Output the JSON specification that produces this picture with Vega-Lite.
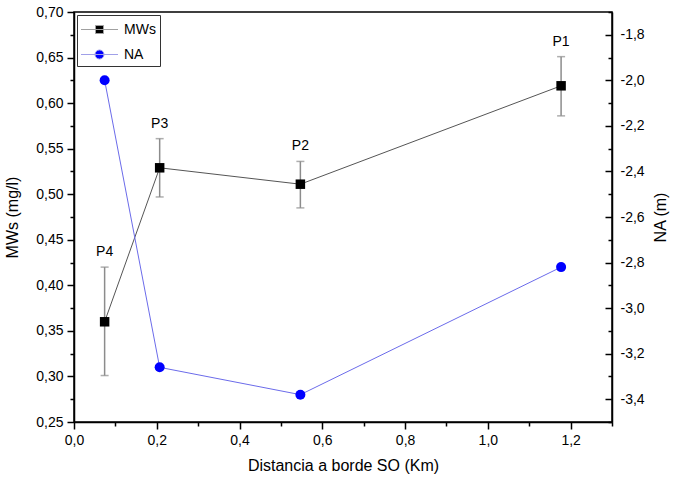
{
  "$schema": "https://vega.github.io/schema/vega-lite/v6.json",
  "width": 538,
  "height": 410,
  "autosize": {"type": "none"},
  "padding": {"left": 74, "top": 12, "right": 62, "bottom": 58},
  "background": "white",
  "config": {
    "font": "Liberation Sans",
    "view": {"stroke": "black", "strokeWidth": 1.5},
    "axis": {
      "domainColor": "black", "domainWidth": 1.5, "tickColor": "black", "tickWidth": 1.5,
      "labelColor": "black", "titleColor": "black", "labelFontSize": 14, "titleFontSize": 16,
      "titleFontWeight": "normal", "grid": false, "labelFont": "Liberation Sans", "titleFont": "Liberation Sans",
      "labelFlush": false, "labelOverlap": false
    }
  },
  "data": {
    "values": [
      {"site": "P4", "x": 0.074, "mws": 0.360, "lo": 0.301, "hi": 0.420, "na": -2.00},
      {"site": "P3", "x": 0.207, "mws": 0.529, "lo": 0.497, "hi": 0.561, "na": -3.26},
      {"site": "P2", "x": 0.547, "mws": 0.511, "lo": 0.485, "hi": 0.536, "na": -3.38},
      {"site": "P1", "x": 1.177, "mws": 0.619, "lo": 0.586, "hi": 0.651, "na": -2.82}
    ]
  },
  "encoding": {
    "x": {
      "field": "x", "type": "quantitative",
      "scale": {"domain": [0, 1.3], "nice": false, "zero": false},
      "axis": {
        "title": "Distancia a borde SO (Km)",
        "values": [0, 0.1, 0.2, 0.3, 0.4, 0.5, 0.6, 0.7, 0.8, 0.9, 1.0, 1.1, 1.2, 1.3],
        "labelExpr": "round(datum.value*10)%2==0 ? replace(format(datum.value,'.1f'),'.',',') : ''",
        "tickSize": {"condition": {"test": "round(datum.value*10)%2==0", "value": 7}, "value": 4},
        "labelPadding": 4,
        "titlePadding": 10
      }
    }
  },
  "layer": [
    {
      "mark": {"type": "line", "color": "#555555", "strokeWidth": 1},
      "encoding": {
        "y": {
          "field": "mws", "type": "quantitative",
          "scale": {"domain": [0.25, 0.70], "nice": false, "zero": false},
          "axis": {
            "title": "MWs (mg/l)",
            "orient": "left",
            "values": [0.25, 0.275, 0.3, 0.325, 0.35, 0.375, 0.4, 0.425, 0.45, 0.475, 0.5, 0.525, 0.55, 0.575, 0.6, 0.625, 0.65, 0.675, 0.7],
            "labelExpr": "round(datum.value*1000)%50==0 ? replace(format(datum.value,'.2f'),'.',',') : ''",
            "tickSize": {"condition": {"test": "round(datum.value*1000)%50==0", "value": 7}, "value": 4},
            "labelPadding": 4,
            "titlePadding": 15
          }
        }
      }
    },
    {
      "mark": {"type": "errorbar", "ticks": {"size": 8, "color": "#8c8c8c"}, "color": "#8c8c8c", "thickness": 1.5},
      "encoding": {
        "y": {"field": "lo", "type": "quantitative", "scale": {"domain": [0.25, 0.70], "nice": false, "zero": false}, "axis": null},
        "y2": {"field": "hi"}
      }
    },
    {
      "mark": {"type": "point", "shape": "square", "filled": true, "size": 90, "opacity": 1, "color": "black"},
      "encoding": {
        "y": {"field": "mws", "type": "quantitative", "scale": {"domain": [0.25, 0.70], "nice": false, "zero": false}, "axis": null}
      }
    },
    {
      "mark": {"type": "text", "dy": -15, "fontSize": 14, "font": "Liberation Sans", "color": "black"},
      "encoding": {
        "y": {"field": "hi", "type": "quantitative", "scale": {"domain": [0.25, 0.70], "nice": false, "zero": false}, "axis": null},
        "text": {"field": "site"}
      }
    },
    {
      "mark": {"type": "line", "color": "#6b6bea", "strokeWidth": 1},
      "encoding": {
        "y": {
          "field": "na", "type": "quantitative",
          "scale": {"domain": [-3.5, -1.7], "nice": false, "zero": false},
          "axis": {
            "title": "NA (m)",
            "orient": "right",
            "titleAngle": 270,
            "titleBaseline": "top",
            "values": [-3.5, -3.4, -3.3, -3.2, -3.1, -3.0, -2.9, -2.8, -2.7, -2.6, -2.5, -2.4, -2.3, -2.2, -2.1, -2.0, -1.9, -1.8, -1.7],
            "labelExpr": "round(datum.value*10)%2==0 ? '-' + replace(format(abs(datum.value),'.1f'),'.',',') : ''",
            "tickSize": {"condition": {"test": "round(datum.value*10)%2==0", "value": -7}, "value": -4},
            "labelPadding": 15,
            "titlePadding": 8
          }
        }
      }
    },
    {
      "mark": {"type": "point", "shape": "circle", "filled": true, "size": 100, "opacity": 1, "color": "#0000ff"},
      "encoding": {
        "y": {"field": "na", "type": "quantitative", "scale": {"domain": [-3.5, -1.7], "nice": false, "zero": false}, "axis": null}
      }
    },
    {
      "mark": {"type": "point", "filled": true, "opacity": 0},
      "encoding": {
        "y": {"field": "mws", "type": "quantitative", "scale": {"domain": [0.25, 0.70], "nice": false, "zero": false}, "axis": null},
        "color": {
          "datum": "MWs", "type": "nominal",
          "scale": {"domain": ["MWs", "NA"], "range": ["black", "#0000ff"]},
          "legend": {
            "title": null, "orient": "top-left", "offset": 3,
            "strokeColor": "#333333", "fillColor": "white", "padding": 4,
            "symbolSize": 400, "symbolStrokeWidth": 1, "symbolOpacity": 1, "rowPadding": 7,
            "symbolOffset": 8,
            "labelFontSize": 14, "labelFont": "Liberation Sans", "labelColor": "black",
            "labelOffset": 14
          }
        },
        "shape": {
          "datum": "MWs", "type": "nominal",
          "scale": {"domain": ["MWs", "NA"], "range": ["M-1.85,0H1.85M-0.4,-0.4H0.4V0.4H-0.4Z", "M-1.85,0H1.85M0.45,0A0.45,0.45,0,1,1,-0.45,0A0.45,0.45,0,1,1,0.45,0Z"]},
          "legend": {"title": null}
        },
        "stroke": {
          "datum": "MWs", "type": "nominal",
          "scale": {"domain": ["MWs", "NA"], "range": ["#a0a0a0", "#a0a0e8"]},
          "legend": {"title": null}
        }
      }
    },
    {
      "mark": {"type": "point", "filled": true, "opacity": 0},
      "encoding": {
        "y": {"field": "mws", "type": "quantitative", "scale": {"domain": [0.25, 0.70], "nice": false, "zero": false}, "axis": null},
        "color": {
          "datum": "NA", "type": "nominal",
          "scale": {"domain": ["MWs", "NA"], "range": ["black", "#0000ff"]},
          "legend": {"title": null}
        },
        "shape": {
          "datum": "NA", "type": "nominal",
          "scale": {"domain": ["MWs", "NA"], "range": ["M-1.85,0H1.85M-0.4,-0.4H0.4V0.4H-0.4Z", "M-1.85,0H1.85M0.45,0A0.45,0.45,0,1,1,-0.45,0A0.45,0.45,0,1,1,0.45,0Z"]},
          "legend": {"title": null}
        },
        "stroke": {
          "datum": "NA", "type": "nominal",
          "scale": {"domain": ["MWs", "NA"], "range": ["#a0a0a0", "#a0a0e8"]},
          "legend": {"title": null}
        }
      }
    }
  ],
  "resolve": {"scale": {"y": "independent"}}
}
